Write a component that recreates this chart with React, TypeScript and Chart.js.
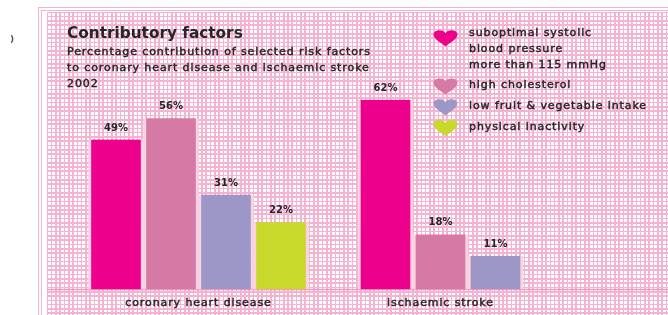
import React, { useEffect, useRef } from 'react';
import { Chart, registerables } from 'chart.js';

Chart.register(...registerables);

const W = 668;
const H = 315;

const categories = ['coronary heart disease', 'ischaemic stroke'];
const seriesNames = [
  'suboptimal systolic blood pressure more than 115 mmHg',
  'high cholesterol',
  'low fruit & vegetable intake',
  'physical inactivity',
];
const legendLines = [
  ['suboptimal systolic', 'blood pressure', 'more than 115 mmHg'],
  ['high cholesterol'],
  ['low fruit & vegetable intake'],
  ['physical inactivity'],
];
const bloodPressure = [49, 62];
const highCholesterol = [56, 18];
const lowFruitVeg = [31, 11];
const physicalInactivity = [22, null];
const seriesColors = ['#EC008C', '#D47AA4', '#9D97C7', '#C8D92B'];
const titleText = 'Contributory factors';
const subtitleLines = [
  'Percentage contribution of selected risk factors',
  'to coronary heart disease and ischaemic stroke',
  '2002',
];

const PINK = '#F4B3D0';
const TEXT = '#262626';

function heart(ctx: CanvasRenderingContext2D, cx: number, cy: number, w: number, h: number, color: string) {
  const top = cy - h / 2;
  ctx.save();
  ctx.fillStyle = color;
  ctx.beginPath();
  ctx.moveTo(cx, top + h);
  ctx.bezierCurveTo(cx - w * 0.12, top + h * 0.82, cx - w / 2, top + h * 0.6, cx - w / 2, top + h * 0.3);
  ctx.bezierCurveTo(cx - w / 2, top - h * 0.02, cx - w * 0.08, top - h * 0.05, cx, top + h * 0.22);
  ctx.bezierCurveTo(cx + w * 0.08, top - h * 0.05, cx + w / 2, top - h * 0.02, cx + w / 2, top + h * 0.3);
  ctx.bezierCurveTo(cx + w / 2, top + h * 0.6, cx + w * 0.12, top + h * 0.82, cx, top + h);
  ctx.closePath();
  ctx.fill();
  ctx.restore();
}

function boldText(ctx: CanvasRenderingContext2D, t: string, x: number, y: number) {
  ctx.fillText(t, x, y);
  ctx.strokeText(t, x, y);
}

const decorPlugin = {
  id: 'decor',
  beforeDraw(chart: any) {
    const ctx: CanvasRenderingContext2D = chart.ctx;
    ctx.save();
    ctx.fillStyle = '#ffffff';
    ctx.fillRect(0, 0, W, H);
    const gx = 47, gy = 12;
    ctx.fillStyle = PINK;
    ctx.fillRect(gx, gy, W - gx, H - gy);
    ctx.fillStyle = '#ffffff';
    const pitch = 4.3;
    for (let i = 0; gx + 1 + i * pitch < W; i++) {
      const x0 = Math.round(gx + 1 + i * pitch);
      const x1 = Math.round(gx + 1 + i * pitch + 2.7);
      for (let j = 0; gy + 1 + j * pitch < H; j++) {
        const y0 = Math.round(gy + 1 + j * pitch);
        const y1 = Math.round(gy + 1 + j * pitch + 2.7);
        ctx.fillRect(x0, y0, x1 - x0, y1 - y0);
      }
    }
    ctx.strokeStyle = PINK;
    ctx.lineWidth = 1;
    ctx.beginPath();
    ctx.moveTo(38.5, 7); ctx.lineTo(38.5, H);
    ctx.moveTo(41.5, 10); ctx.lineTo(41.5, H);
    ctx.moveTo(38, 7.5); ctx.lineTo(W, 7.5);
    ctx.moveTo(41, 10.5); ctx.lineTo(W, 10.5);
    ctx.stroke();
    ctx.restore();
  },
  beforeDatasetsDraw(chart: any) {
    const ctx: CanvasRenderingContext2D = chart.ctx;
    const b = chart.chartArea.bottom;
    ctx.save();
    ctx.strokeStyle = '#EE9CC2';
    ctx.lineWidth = 1.5;
    ctx.beginPath();
    ctx.moveTo(47, b);
    ctx.lineTo(W, b);
    ctx.stroke();
    ctx.restore();
  },
  afterDraw(chart: any) {
    const ctx: any = chart.ctx;
    ctx.save();
    ctx.textAlign = 'left';
    ctx.textBaseline = 'alphabetic';
    ctx.fillStyle = '#555';
    ctx.font = 'bold 9px "DejaVu Sans"';
    ctx.fillText(')', 10, 42);
    ctx.fillStyle = TEXT;
    ctx.strokeStyle = TEXT;
    ctx.lineWidth = 0.45;
    ctx.letterSpacing = '0px';
    ctx.font = 'bold 15.3px "DejaVu Sans"';
    ctx.fillText(titleText, 67, 37.5);
    ctx.font = '11px "DejaVu Sans"';
    ctx.letterSpacing = '0.9px';
    subtitleLines.forEach((t, i) => boldText(ctx, t, 67, 55 + i * 16));
    let y = 36;
    legendLines.forEach((lines, k) => {
      const cy = y - 2 + (lines.length > 1 ? 4 : 0);
      heart(ctx, 445.5, cy, 24, 17, seriesColors[k]);
      ctx.fillStyle = TEXT;
      lines.forEach((t, i) => boldText(ctx, t, 469, y + i * 15.75));
      y += lines.length * 15.75 + 5;
    });
    ctx.textAlign = 'center';
    const xs = chart.scales.x;
    categories.forEach((c, i) => boldText(ctx, c, xs.getPixelForValue(i), 305.5));
    ctx.letterSpacing = '0px';
    ctx.font = 'bold 10px "DejaVu Sans"';
    chart.data.datasets.forEach((ds: any, di: number) => {
      const meta = chart.getDatasetMeta(di);
      meta.data.forEach((el: any, i: number) => {
        const v = ds.data[i];
        if (v === null || v === undefined) return;
        ctx.fillText(v + '%', el.x, el.y - 9);
      });
    });
    ctx.restore();
  },
};

export default function App() {
  const ref = useRef<HTMLCanvasElement>(null);
  useEffect(() => {
    if (!ref.current) return;
    const series = [bloodPressure, highCholesterol, lowFruitVeg, physicalInactivity];
    const chart = new Chart(ref.current, {
      type: 'bar',
      data: {
        labels: categories,
        datasets: series.map((d, i) => ({
          label: seriesNames[i],
          data: d,
          backgroundColor: seriesColors[i],
          borderColor: '#FAD3E3',
          borderWidth: { left: 3, right: 3, top: 0, bottom: 0 },
          barThickness: 55,
          skipNull: true,
        })),
      },
      options: {
        responsive: false,
        animation: false,
        devicePixelRatio: 1,
        layout: { padding: { left: 77.5, right: 106.5, top: 75.3, bottom: 25.5 } },
        plugins: { legend: { display: false }, tooltip: { enabled: false }, title: { display: false } },
        events: [],
        scales: {
          x: { display: false, offset: true },
          y: { display: false, min: 0, max: 70 },
        },
      },
      plugins: [decorPlugin],
    } as any);
    return () => chart.destroy();
  }, []);
  return (
    <div style={{ position: 'absolute', left: 0, top: 0, width: W, height: H }}>
      <canvas ref={ref} width={W} height={H} style={{ display: 'block' }} />
    </div>
  );
}
